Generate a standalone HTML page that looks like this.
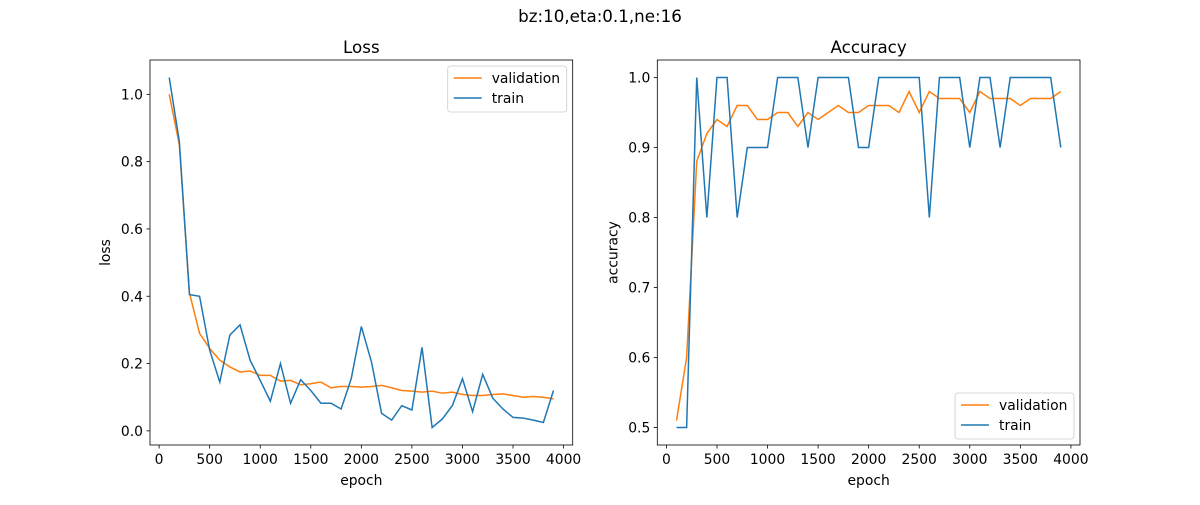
<!DOCTYPE html>
<html><head><meta charset="utf-8"><style>
body{margin:0;background:#fff}
svg text{font-family:"DejaVu Sans","Liberation Sans",sans-serif;fill:#000}
</style></head><body>
<svg id="fig" width="1200" height="500" xmlns="http://www.w3.org/2000/svg">
<rect width="1200" height="500" fill="#fff"/>
<text x="600" y="22" font-size="16.7" text-anchor="middle">bz:10,eta:0.1,ne:16</text>
</svg>
<script>
const epochs=[100,200,300,400,500,600,700,800,900,1000,1100,1200,1300,1400,1500,1600,1700,1800,1900,2000,2100,2200,2300,2400,2500,2600,2700,2800,2900,3000,3100,3200,3300,3400,3500,3600,3700,3800,3900];
const lossTrain=[1.05,0.86,0.405,0.40,0.24,0.145,0.285,0.315,0.21,0.15,0.088,0.20,0.082,0.152,0.12,0.082,0.082,0.065,0.155,0.31,0.205,0.052,0.032,0.075,0.062,0.248,0.01,0.035,0.075,0.155,0.057,0.168,0.097,0.065,0.04,0.038,0.032,0.025,0.12];
const lossVal=[1.0,0.85,0.41,0.29,0.245,0.21,0.19,0.175,0.178,0.165,0.165,0.148,0.15,0.137,0.14,0.145,0.128,0.132,0.132,0.13,0.132,0.135,0.128,0.12,0.118,0.115,0.118,0.112,0.115,0.108,0.105,0.105,0.108,0.11,0.105,0.1,0.102,0.1,0.095];
const accTrain=[0.5,0.5,1,0.8,1,1,0.8,0.9,0.9,0.9,1,1,1,0.9,1,1,1,1,0.9,0.9,1,1,1,1,1,0.8,1,1,1,0.9,1,1,0.9,1,1,1,1,1,0.9];
const accVal=[0.51,0.6,0.88,0.92,0.94,0.93,0.96,0.96,0.94,0.94,0.95,0.95,0.93,0.95,0.94,0.95,0.96,0.95,0.95,0.96,0.96,0.96,0.95,0.98,0.95,0.98,0.97,0.97,0.97,0.95,0.98,0.97,0.97,0.97,0.96,0.97,0.97,0.97,0.98];
const xTicks=[0,500,1000,1500,2000,2500,3000,3500,4000];
const lossTicks=[0.0,0.2,0.4,0.6,0.8,1.0];
const accTicks=[0.5,0.6,0.7,0.8,0.9,1.0];

const svg=document.getElementById('fig');
const NS='http://www.w3.org/2000/svg';
function mk(tag,attrs,parent){const e=document.createElementNS(NS,tag);for(const k in attrs)e.setAttribute(k,attrs[k]);(parent||svg).appendChild(e);return e;}

function panel(L,R,title,ylabel,train,val,yTicks,legendPos,key){
  const T=60,B=445;
  const all=train.concat(val);
  const mn=Math.min(...all),mx=Math.max(...all),pad=(mx-mn)*0.05;
  const y0=mn-pad,y1=mx+pad;
  const xmn=Math.min(...epochs),xmx=Math.max(...epochs),xp=(xmx-xmn)*0.05;
  const x0=xmn-xp,x1=xmx+xp;
  const sx=v=>L+(v-x0)/(x1-x0)*(R-L);
  const sy=v=>B-(v-y0)/(y1-y0)*(B-T);
  const g=mk('g',{});
  
  
  const t=mk('text',{x:(L+R)/2,y:T-7,'font-size':16.7,'text-anchor':'middle'},g);t.textContent=title;
  
  
  xTicks.forEach(v=>{const x=sx(v);mk('line',{x1:x,x2:x,y1:B,y2:B+3.5,stroke:'#000','stroke-width':0.8},g);
    const tx=mk('text',{x:x,y:B+19,'font-size':13.9,'text-anchor':'middle'},g);tx.textContent=v;
    
    });
  yTicks.forEach(v=>{const y=sy(v);mk('line',{x1:L-3.5,x2:L,y1:y,y2:y,stroke:'#000','stroke-width':0.8},g);
    const tx=mk('text',{x:L-7,y:y+5,'font-size':13.9,'text-anchor':'end'},g);tx.textContent=v.toFixed(1);
    
    });
  const xl=mk('text',{x:(L+R)/2,y:485,'font-size':13.9,'text-anchor':'middle'},g);xl.textContent='epoch';
  
  
  const ylx=L-40;
  const yl=mk('text',{x:ylx,y:(T+B)/2,'font-size':13.9,'text-anchor':'middle',transform:`rotate(-90 ${ylx} ${(T+B)/2})`},g);yl.textContent=ylabel;
  
  
  const pv=mk('polyline',{points:epochs.map((e,i)=>sx(e)+','+sy(val[i])).join(' '),fill:'none',stroke:'#ff7f0e','stroke-width':1.5},g);
  
  
  const pt=mk('polyline',{points:epochs.map((e,i)=>sx(e)+','+sy(train[i])).join(' '),fill:'none',stroke:'#1f77b4','stroke-width':1.5},g);
  
  
  mk('rect',{x:L,y:T,width:R-L,height:B-T,fill:'none',stroke:'#000','stroke-width':0.8},g);
  const lw=119,lh=46,lx=R-lw-6,ly=legendPos==='top'?T+6:B-lh-6;
  const lg=mk('g',{},g);
  
  
  mk('rect',{x:lx,y:ly,width:lw,height:lh,rx:3,fill:'#fff','fill-opacity':0.8,stroke:'#ccc','stroke-width':0.8},lg);
  [['validation','#ff7f0e'],['train','#1f77b4']].forEach((it,i)=>{
    const yy=ly+12+i*20;
    mk('line',{x1:lx+6,x2:lx+34,y1:yy,y2:yy,stroke:it[1],'stroke-width':1.5},lg);
    const tx=mk('text',{x:lx+44,y:yy+5,'font-size':13.9},lg);tx.textContent=it[0];
    
    
  });
}
panel(150,572.7,'Loss','loss',lossTrain,lossVal,lossTicks,'top','loss');
panel(657.3,1080,'Accuracy','accuracy',accTrain,accVal,accTicks,'bottom','accuracy');
</script>
</body></html>
